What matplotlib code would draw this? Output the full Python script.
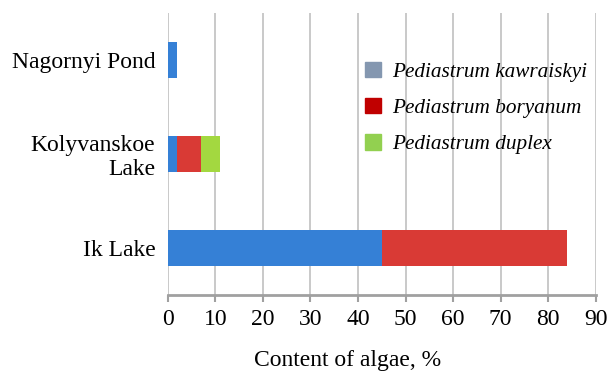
import matplotlib.pyplot as plt
from matplotlib.patches import Patch

lakes = ['Ik Lake', 'Kolyvanskoe\nLake', 'Nagornyi Pond']
kawraiskyi = [45, 2, 2]
boryanum = [39, 5, 0]
duplex = [0, 4, 0]
species = ['Pediastrum kawraiskyi', 'Pediastrum boryanum', 'Pediastrum duplex']

bar_colors = ['#3580d6', '#d93a35', '#a3d840']
legend_colors = ['#8497b0', '#c00000', '#92d050']

plt.rcParams['font.family'] = ['Liberation Serif', 'DejaVu Serif']

fig = plt.figure(figsize=(6.08, 3.71), dpi=100)
ax = fig.add_axes([0.276, 0.205, 0.704, 0.76])

y = list(range(len(lakes)))
left = [0] * len(lakes)
for vals, c in zip([kawraiskyi, boryanum, duplex], bar_colors):
    ax.barh(y, vals, left=left, height=0.39, color=c, zorder=3)
    left = [l + v for l, v in zip(left, vals)]

ax.set_xlim(0, 90)
ax.set_ylim(-0.5, 2.5)
ax.set_xticks(range(0, 91, 10))
ax.set_yticks(y)
ax.set_yticklabels(lakes, fontsize=17, ha='right', multialignment='right', linespacing=1.15)
ax.tick_params(axis='x', labelsize=17, length=5, color='#a0a0a0', width=1.5, pad=5)
ax.tick_params(axis='y', length=0, pad=9)
ax.grid(axis='x', color='#c0c0c0', linewidth=1.2, zorder=0)

for s in ['top', 'right', 'left']:
    ax.spines[s].set_visible(False)
ax.spines['bottom'].set_color('#a0a0a0')
ax.spines['bottom'].set_linewidth(2)

ax.set_xlabel('Content of algae, %', fontsize=17)
ax.xaxis.set_label_coords(0.42, -0.197)

handles = [Patch(color=c) for c in legend_colors]
leg = ax.legend(handles, species, loc='upper left', bbox_to_anchor=(0.415, 0.895),
                frameon=False, prop={'style': 'italic', 'size': 15.3},
                handlelength=0.75, handleheight=0.75, labelspacing=0.75, handletextpad=0.55)

fig.savefig('out.png', dpi=100)
